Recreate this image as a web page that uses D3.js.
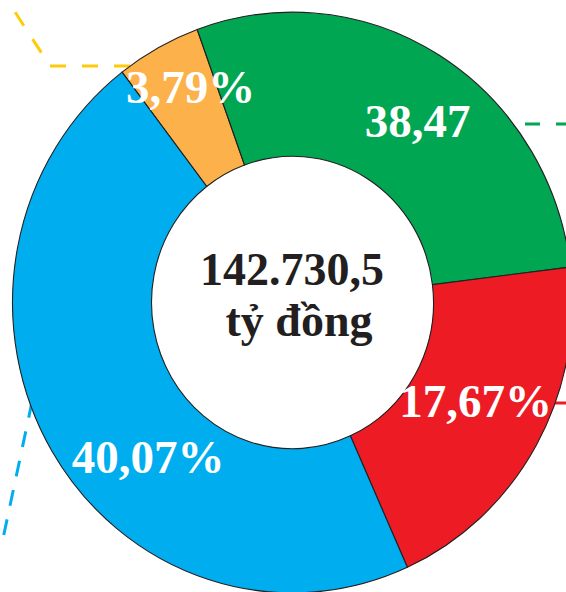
<!DOCTYPE html>
<html>
<head>
<meta charset="utf-8">
<script src="https://cdn.jsdelivr.net/npm/d3@7"></script>
<style>
  html, body { margin: 0; padding: 0; background: #ffffff; }
  svg { display: block; }
</style>
</head>
<body>
<svg id="chart" width="566" height="592"></svg>
<script>
// ---- data ----
const categories = ["Vàng", "Xanh lá", "Đỏ", "Xanh dương"];
// arc shares as drawn in the picture (degrees of the ring, in %)
const drawnShares = [4.89, 28.58, 20.22, 46.31];
// printed labels
const labelTexts = ["3,79%", "38,47", "17,67%", "40,07%"];
const sliceColors = ["#FDB14A", "#00A651", "#ED1C24", "#00AEEF"];
const totalLine1 = "142.730,5";
const totalLine2 = "tỷ đồng";

// ---- drawing ----
const svg = d3.select("#chart");
const cx = 292.5, cy = 302.5;
const rOuter = 280, rInner = 141, yStretch = 1.037;
const deg = Math.PI / 180;

// leader lines (drawn beneath the ring)
const leaders = svg.append("g").attr("fill", "none").attr("stroke-width", 3);
leaders.append("path")
  .attr("d", d3.line()([[130, 66], [50, 66], [15, 12], [-10, 12]]))
  .attr("stroke", "#FFCB08").attr("stroke-dasharray", "16,16");
leaders.append("path")
  .attr("d", d3.line()([[525, 124], [580, 124]]))
  .attr("stroke", "#00A651").attr("stroke-dasharray", "15,16");
leaders.append("path")
  .attr("d", d3.line()([[540, 403], [580, 403]]))
  .attr("stroke", "#ED1C24");
leaders.append("path")
  .attr("d", d3.line()([[32, 402], [1, 548]]))
  .attr("stroke", "#00AEEF").attr("stroke-dasharray", "16,14").attr("stroke-width", 3);

const pie = d3.pie().sort(null).value(d => d)
  .startAngle(-37.5 * deg).endAngle(-37.5 * deg + 2 * Math.PI);
const arc = d3.arc().innerRadius(rInner).outerRadius(rOuter);

const ring = svg.append("g")
  .attr("transform", `translate(${cx},${cy}) scale(1,${yStretch})`);
ring.selectAll("path")
  .data(pie(drawnShares))
  .join("path")
  .attr("d", arc)
  .attr("fill", (d, i) => sliceColors[i])
  .attr("stroke", "#231F20")
  .attr("stroke-width", 1.1);

// percentage labels
const labelPos = [[190.5, 103], [417.5, 137], [475.5, 417], [148, 473]];
svg.append("g")
  .selectAll("text")
  .data(labelTexts)
  .join("text")
  .attr("x", (d, i) => labelPos[i][0])
  .attr("y", (d, i) => labelPos[i][1])
  .attr("text-anchor", "middle")
  .attr("font-family", "'Liberation Serif', 'Times New Roman', serif")
  .attr("font-weight", "bold")
  .attr("font-size", 47)
  .attr("fill", "#ffffff")
  .text(d => d);

// centre total
const centre = svg.append("g")
  .attr("font-family", "'Liberation Serif', 'Times New Roman', serif")
  .attr("font-weight", "bold")
  .attr("font-size", 46)
  .attr("fill", "#231F20")
  .attr("text-anchor", "middle");
centre.append("text").attr("x", 292).attr("y", 285).text(totalLine1);
centre.append("text").attr("x", 299).attr("y", 336).text(totalLine2);
</script>
</body>
</html>
